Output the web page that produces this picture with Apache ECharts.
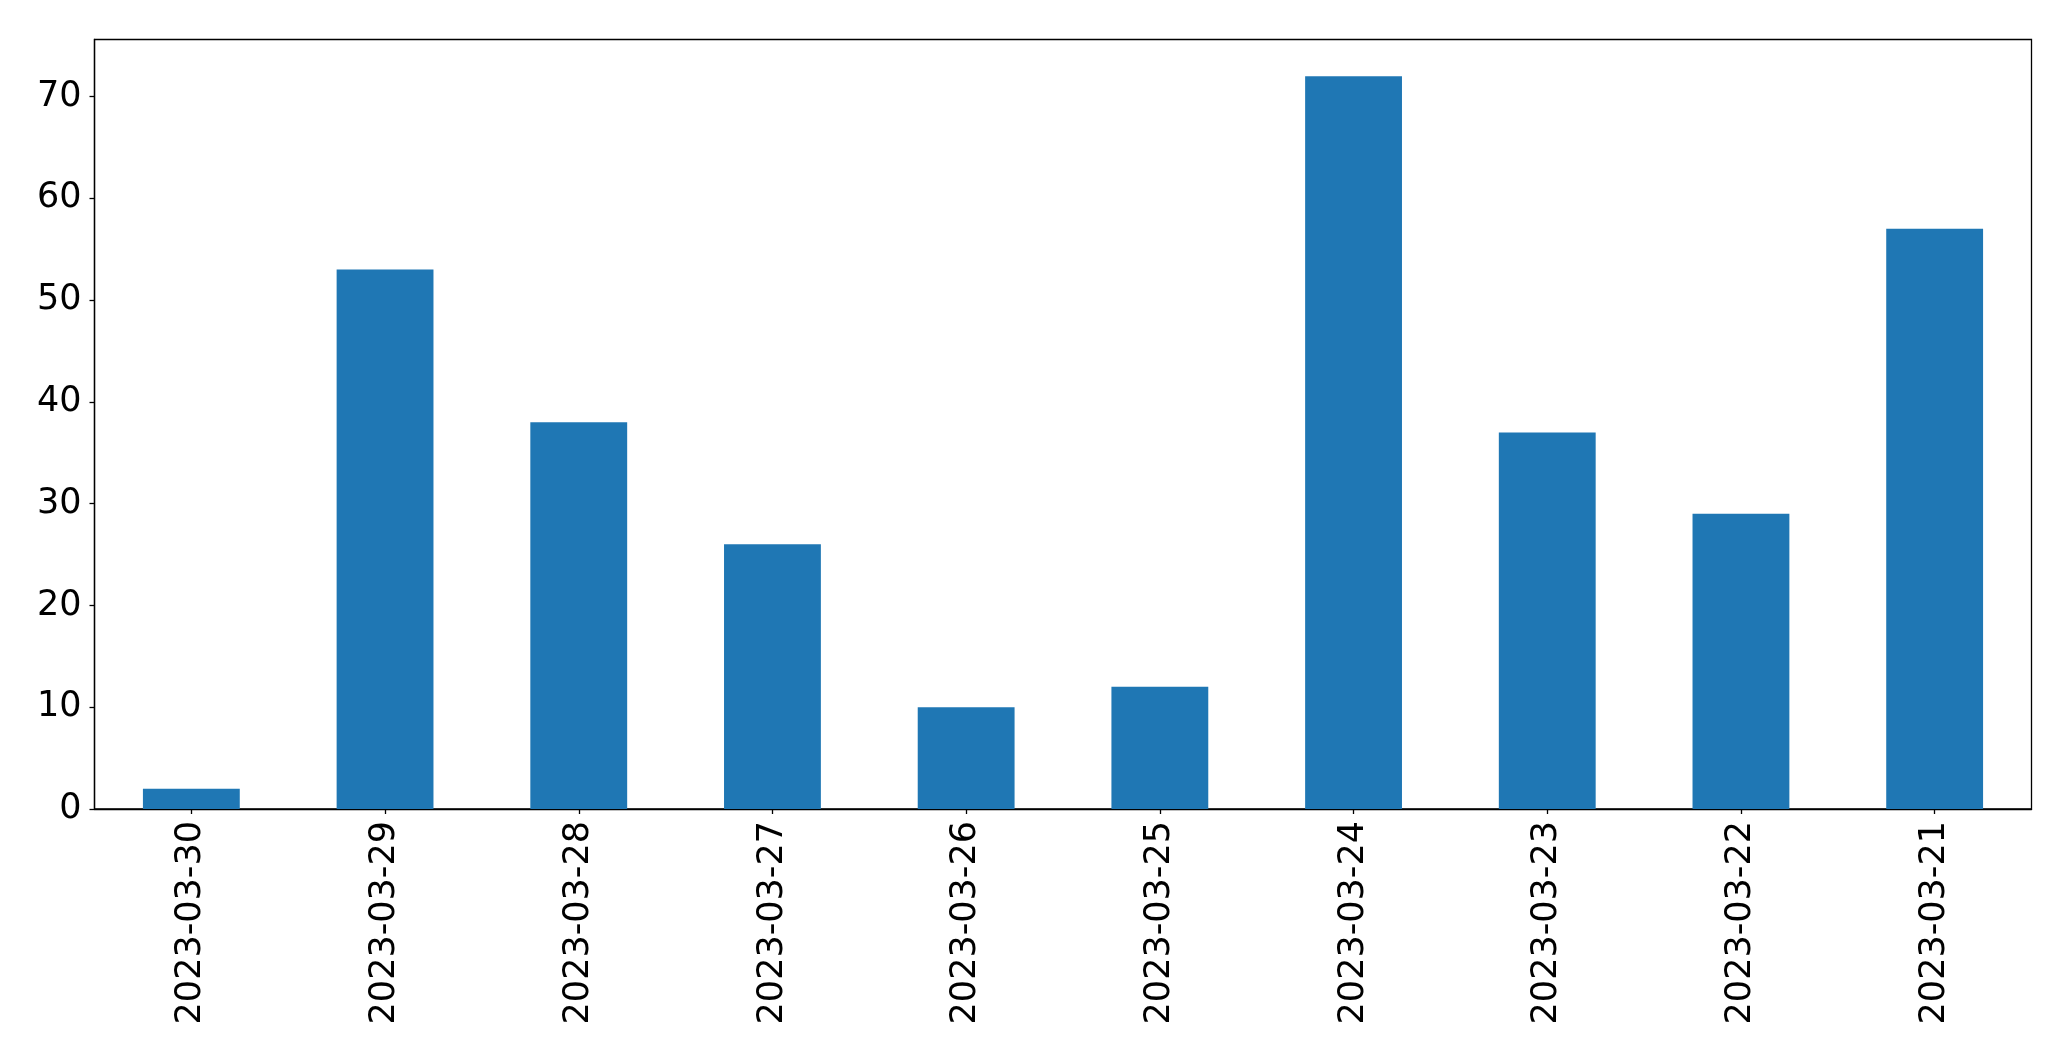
<!DOCTYPE html>
<html>
<head>
<meta charset="utf-8">
<script src="https://cdn.jsdelivr.net/npm/echarts@6/dist/echarts.min.js"></script>
<style>
html,body{margin:0;padding:0;background:#fff;}
#c{width:2071px;height:1061px;}
</style>
</head>
<body>
<div id="c"></div>
<script>
const categories = ["2023-03-30","2023-03-29","2023-03-28","2023-03-27","2023-03-26","2023-03-25","2023-03-24","2023-03-23","2023-03-22","2023-03-21"];
const values = [2, 53, 38, 26, 10, 12, 72, 37, 29, 57];
const yMax = 75.6;

const chart = echarts.init(document.getElementById('c'), null, {renderer: 'canvas'});
const font = 'DejaVu Sans';
chart.setOption({
  animation: false,
  backgroundColor: '#fff',
  grid: {
    left: 94.5, top: 39.5, right: 39.5, bottom: 252,
    show: true, borderColor: '#000', borderWidth: 1.3, backgroundColor: 'transparent'
  },
  xAxis: {
    type: 'category',
    data: categories,
    boundaryGap: true,
    axisLine: {show: true, lineStyle: {color: '#000', width: 1.3}},
    axisTick: {show: true, alignWithLabel: true, length: 5, lineStyle: {color: '#000', width: 1.3}},
    axisLabel: {rotate: 90, fontFamily: font, fontSize: 35, color: '#000', margin: 12, interval: 0}
  },
  yAxis: {
    type: 'value',
    min: 0, max: yMax, interval: 10,
    splitLine: {show: false},
    axisLine: {show: true, lineStyle: {color: '#000', width: 1.3}},
    axisTick: {show: true, length: 5, lineStyle: {color: '#000', width: 1.3}},
    axisLabel: {fontFamily: font, fontSize: 35, color: '#000', margin: 13, showMaxLabel: false,
      formatter: v => (v % 10 === 0 ? String(v) : '')}
  },
  series: [{
    type: 'bar',
    data: values,
    barWidth: '50%',
    itemStyle: {color: '#1f77b4'}
  }]
});
</script>
</body>
</html>
